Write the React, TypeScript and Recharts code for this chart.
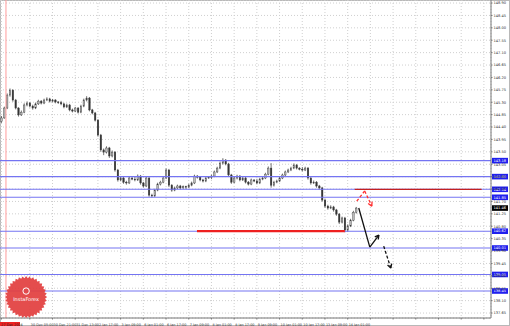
import React from 'react';
import { ComposedChart, Bar, XAxis, YAxis, CartesianGrid, ReferenceLine, ReferenceDot } from 'recharts';

// candles, open of each = previous close
const firstOpen = 144.6;
const closes = [
  144.73, 145.09, 145.56, 145.74, 145.38, 145.09, 144.84, 144.94, 145.2, 145.27,
  145.16, 145.09, 145.24, 145.34, 145.27, 145.38, 145.42, 145.34, 145.38, 145.31,
  145.28, 145.24, 145.13, 145.2, 145.02, 144.98, 145.09, 144.94, 145.16, 145.38,
  145.45, 145.02, 144.91, 144.65, 144.11, 143.57, 143.49, 143.64, 143.35, 143.49,
  142.84, 142.48, 142.55, 142.4, 142.37, 142.55, 142.51, 142.48, 142.62, 142.37,
  142.26, 142.55, 141.93, 141.9, 142.11, 142.33, 142.4, 142.55, 142.84, 142.29,
  142.11, 142.19, 142.26, 142.19, 142.24, 142.22, 142.29, 142.37, 142.62, 142.58,
  142.48, 142.44, 142.55, 142.58, 142.62, 142.77, 142.91, 143.09, 143.2, 143.06,
  142.66, 142.4, 142.55, 142.62, 142.48, 142.55, 142.4, 142.33, 142.48, 142.44,
  142.37, 142.51, 142.55, 142.69, 142.91, 142.29, 142.4, 142.44, 142.55, 142.66,
  142.77, 142.84, 142.91, 143.02, 142.91, 142.87, 142.84, 142.91, 142.55, 142.37,
  142.4, 142.26, 142.19, 141.75, 141.53, 141.46, 141.5, 141.39, 141.24, 140.95,
  141.1, 140.66, 140.81, 141.02, 141.31, 141.46,
];
const highs = [
  144.8, 145.14, 145.62, 145.8, 145.77, 145.42, 145.12, 145.0, 145.26, 145.33,
  145.31, 145.21, 145.29, 145.39, 145.38, 145.43, 145.48, 145.46, 145.42, 145.41,
  145.34, 145.35, 145.28, 145.25, 145.24, 145.07, 145.13, 145.12, 145.21, 145.43,
  145.52, 145.49, 145.06, 144.95, 144.69, 144.15, 143.62, 143.7, 143.68, 143.55,
  143.53, 142.88, 142.62, 142.59, 142.45, 142.6, 142.58, 142.59, 142.68, 142.66,
  142.41, 142.6, 142.58, 141.98, 142.16, 142.38, 142.45, 142.6, 142.9, 142.88,
  142.33, 142.24, 142.31, 142.3, 142.28, 142.27, 142.34, 142.42, 142.67, 142.66,
  142.62, 142.52, 142.6, 142.62, 142.67, 142.82, 142.96, 143.15, 143.27, 143.24,
  143.1, 142.7, 142.6, 142.67, 142.66, 142.6, 142.59, 142.44, 142.53, 142.5,
  142.52, 142.56, 142.6, 142.74, 142.97, 143.09, 142.45, 142.49, 142.6, 142.71,
  142.82, 142.89, 142.96, 143.08, 143.06, 142.94, 142.95, 142.96, 142.95, 142.59,
  142.46, 142.44, 142.3, 142.23, 141.79, 141.58, 141.56, 141.54, 141.43, 141.28,
  141.15, 141.14, 140.87, 141.07, 141.36, 141.5,
];
const lows = [
  144.55, 144.7, 145.05, 145.5, 145.32, 145.04, 144.78, 144.8, 144.9, 145.15,
  145.11, 145.03, 145.05, 145.2, 145.22, 145.23, 145.34, 145.29, 145.3, 145.26,
  145.24, 145.19, 145.08, 145.09, 144.97, 144.93, 144.94, 144.89, 144.9, 145.12,
  145.33, 144.97, 144.86, 144.6, 144.05, 143.5, 143.38, 143.44, 143.28, 143.3,
  142.78, 142.42, 142.43, 142.34, 142.31, 142.33, 142.47, 142.43, 142.44, 142.31,
  142.2, 142.22, 141.87, 141.84, 141.86, 142.07, 142.28, 142.36, 142.51, 142.22,
  142.05, 142.07, 142.15, 142.14, 142.16, 142.15, 142.18, 142.25, 142.33, 142.53,
  142.43, 142.39, 142.4, 142.52, 142.51, 142.58, 142.73, 142.87, 143.04, 143.01,
  142.6, 142.34, 142.36, 142.5, 142.43, 142.44, 142.35, 142.28, 142.29, 142.4,
  142.32, 142.33, 142.47, 142.51, 142.65, 142.2, 142.24, 142.36, 142.4, 142.51,
  142.62, 142.73, 142.8, 142.87, 142.86, 142.83, 142.79, 142.8, 142.49, 142.31,
  142.33, 142.2, 142.13, 141.69, 141.47, 141.4, 141.42, 141.33, 141.18, 140.88,
  140.9, 140.58, 140.6, 140.77, 140.98, 141.26,
];

const SLOTS = 173; // candles + empty space on the right
const firstDate = '27 Dec 2024';
const xLabels = [
  '30 Dec 05:00', '30 Dec 21:00', '31 Dec 13:00', '2 Jan 17:00', '3 Jan 09:00',
  '6 Jan 01:00', '6 Jan 17:00', '7 Jan 09:00', '8 Jan 01:00', '8 Jan 17:00',
  '9 Jan 09:00', '10 Jan 01:00', '10 Jan 17:00', '13 Jan 09:00', '14 Jan 01:00',
];
const xTickSlots = [0, 10, 18, 26, 34, 42, 50, 58, 66, 74, 82, 90, 98, 106, 114, 122, 130, 138, 146, 154, 162, 170];

const yTicks = [
  137.65, 138.1, 138.55, 139.0, 139.45, 139.9, 140.35, 140.8, 141.25, 141.7, 142.15, 142.6, 143.05,
  143.5, 143.95, 144.4, 144.85, 145.3, 145.75, 146.2, 146.65, 147.1, 147.55, 148.0, 148.45, 148.9,
];

const blueLevels = [143.18, 142.6, 142.14, 141.85, 140.62, 140.01, 139.05, 138.45];
const supportLevel = { price: 140.62, from: 69.4, to: 121.5 };
const resistLevel = { price: 142.14, from: 125, to: 169.7 };
const separatorX = 2.1;

// forecast arrows [slot, price]
const redPath = [[125.7, 141.71], [128.5, 142.08], [131, 141.53]];
const blackPath = [[126.4, 141.46], [130.3, 140.04], [133.5, 140.48]];
const dashPath = [[135.2, 140.08], [137.7, 139.28]];

const logoPos = { x: 9.2, y: 138.23 };

const data = Array.from({ length: SLOTS }, (_, i) =>
  i < closes.length
    ? {
        i,
        open: i === 0 ? firstOpen : closes[i - 1],
        close: closes[i],
        high: highs[i],
        low: lows[i],
        range: [lows[i], highs[i]],
      }
    : { i, range: null }
);

const Candle = (props: any) => {
  const { x, y, width, height, payload } = props;
  if (!payload || payload.high == null) return null;
  const top = Math.min(y, y + height);
  const h = Math.abs(height);
  const k = h / (payload.high - payload.low || 0.01);
  const yO = top + (payload.high - payload.open) * k;
  const yC = top + (payload.high - payload.close) * k;
  const cx = x + width / 2;
  const bw = 1.5;
  const up = payload.close >= payload.open;
  return (
    <g>
      <line x1={cx} x2={cx} y1={top} y2={top + h} stroke="#3a3a3a" strokeWidth={0.7} />
      <rect
        x={cx - bw / 2}
        y={Math.min(yO, yC)}
        width={bw}
        height={Math.max(Math.abs(yO - yC), 0.6)}
        fill={up ? '#bdbdbd' : '#333'}
        stroke="#3a3a3a"
        strokeWidth={0.4}
      />
    </g>
  );
};

const XTick = (props: any) => {
  const { x, y, payload } = props;
  const i = payload.value;
  if (i === 0) {
    return (
      <g>
        <rect x={0} y={y + 0.5} width={20} height={5} fill="#ee2222" />
        <text x={1} y={y + 4.3} fontSize={3.4} fill="#222" fontFamily="DejaVu Sans">{firstDate}</text>
      </g>
    );
  }
  const label = xLabels[(i - 10) / 8];
  if (!label) return null;
  return (
    <text x={x + 1} y={y + 4.3} fontSize={3.4} fill="#333" fontFamily="DejaVu Sans">{label}</text>
  );
};

const tag = (text: string, bg: string) => (p: any) => {
  const vb = p.viewBox;
  if (!vb) return null;
  const x = vb.x + vb.width + 1;
  return (
    <g>
      <rect x={x} y={vb.y - 2.8} width={16} height={5.6} fill={bg} />
      <text x={x + 1.5} y={vb.y + 1.3} fontSize={3.6} fill="#fff" fontFamily="DejaVu Sans">{text}</text>
    </g>
  );
};

const arrowShape = (color: string, dash?: string, head?: boolean) => (p: any) => {
  const { x1, y1, x2, y2 } = p;
  const a = Math.atan2(y2 - y1, x2 - x1);
  const L = 4.5;
  return (
    <g>
      <line x1={x1} y1={y1} x2={x2} y2={y2} stroke={color} strokeWidth={1.3} strokeDasharray={dash} />
      {head && (
        <>
          <line x1={x2} y1={y2} x2={x2 - L * Math.cos(a - 0.5)} y2={y2 - L * Math.sin(a - 0.5)} stroke={color} strokeWidth={1.3} />
          <line x1={x2} y1={y2} x2={x2 - L * Math.cos(a + 0.5)} y2={y2 - L * Math.sin(a + 0.5)} stroke={color} strokeWidth={1.3} />
        </>
      )}
    </g>
  );
};

const pathLines = (pts: number[][], color: string, dash: string | undefined, key: string) =>
  pts.slice(1).map((p, j) => (
    <ReferenceLine
      key={`${key}-${j}`}
      xAxisId="n"
      segment={[{ x: pts[j][0], y: pts[j][1] }, { x: p[0], y: p[1] }]}
      shape={arrowShape(color, dash, j === pts.length - 2)}
      ifOverflow="visible"
    />
  ));

const Logo = (props: any) => {
  const { cx, cy } = props;
  const n = 36;
  const pts: string[] = [];
  for (let k = 0; k < n * 2; k++) {
    const r = k % 2 === 0 ? 21 : 19;
    const t = (Math.PI * k) / n;
    pts.push(`${cx + r * Math.cos(t)},${cy + r * Math.sin(t)}`);
  }
  return (
    <g>
      <polygon points={pts.join(' ')} fill="#e23e3e" opacity={0.92} />
      <circle cx={cx} cy={cy - 6} r={3.2} fill="none" stroke="#fff" strokeWidth={1} />
      <text x={cx} y={cy + 4} fontSize={5} fill="#fff" textAnchor="middle" fontFamily="DejaVu Sans">InstaForex</text>
    </g>
  );
};

export default function App() {
  return (
    <div style={{ position: 'absolute', left: 0, top: 0, width: 510, height: 326, background: '#fff', boxShadow: 'inset 0 0 0 1px #b8b8b8' }}>
      <ComposedChart width={510} height={326} data={data} margin={{ top: 0, right: 0, bottom: 0, left: 0 }} barCategoryGap={0}>
        <CartesianGrid xAxisId="c" stroke="#cfcfcf" strokeDasharray="1 2" />
        <XAxis
          xAxisId="c"
          dataKey="i"
          type="category"
          ticks={xTickSlots}
          interval={0}
          height={8}
          tick={XTick}
          tickSize={1.5}
          stroke="#777"
        />
        <XAxis xAxisId="n" type="number" dataKey="i" domain={[0, SLOTS]} hide allowDataOverflow />
        <YAxis
          orientation="right"
          width={19}
          domain={[137.47, 149.01]}
          ticks={yTicks}
          interval={0}
          allowDataOverflow
          tickSize={1.5}
          tickMargin={1}
          stroke="#777"
          tick={{ fontSize: 3.6, fill: '#333', fontFamily: 'DejaVu Sans' }}
          tickFormatter={(v: number) => v.toFixed(2)}
        />
        <ReferenceLine xAxisId="n" x={separatorX} stroke="#ff9c9c" strokeWidth={1} />
        {blueLevels.map((v) => (
          <ReferenceLine key={v} xAxisId="n" y={v} stroke="#7474f2" strokeWidth={1.1} label={tag(v.toFixed(2), '#2020ee')} />
        ))}
        <ReferenceLine
          xAxisId="n"
          segment={[{ x: supportLevel.from, y: supportLevel.price }, { x: supportLevel.to, y: supportLevel.price }]}
          stroke="#ee2020"
          strokeWidth={2.2}
        />
        <ReferenceLine
          xAxisId="n"
          segment={[{ x: resistLevel.from, y: resistLevel.price }, { x: resistLevel.to, y: resistLevel.price }]}
          stroke="#c42020"
          strokeWidth={1.3}
        />
        <ReferenceLine xAxisId="n" y={closes[closes.length - 1]} stroke="none" label={tag(closes[closes.length - 1].toFixed(2), '#000')} />
        <Bar xAxisId="c" dataKey="range" shape={Candle} isAnimationActive={false} />
        {pathLines(redPath, '#ff3030', '3 2', 'red')}
        {pathLines(blackPath, '#111', undefined, 'blk')}
        {pathLines(dashPath, '#111', '3 2', 'dsh')}
        <ReferenceDot xAxisId="n" x={logoPos.x} y={logoPos.y} r={20} shape={Logo} />
      </ComposedChart>
    </div>
  );
}
